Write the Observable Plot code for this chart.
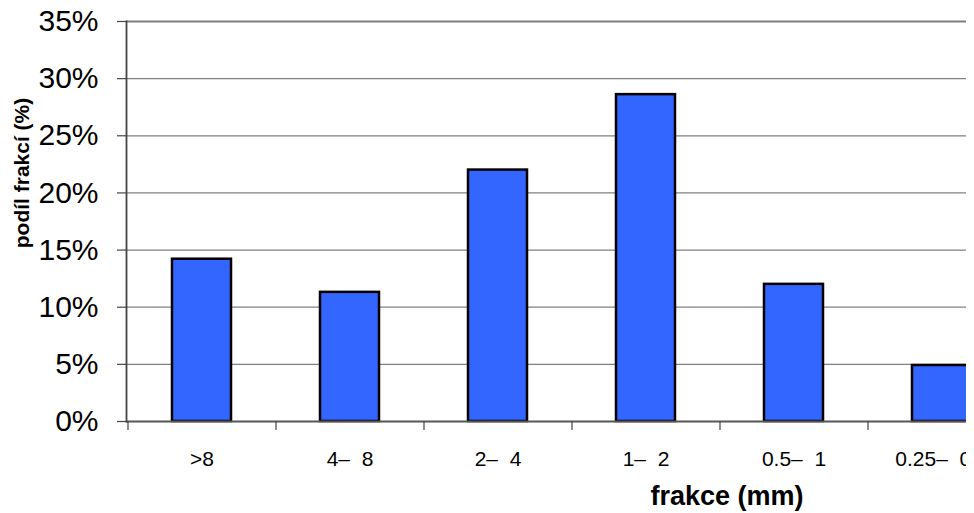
<!DOCTYPE html>
<html>
<head>
<meta charset="utf-8">
<script src="https://cdn.jsdelivr.net/npm/d3@7"></script>
<script src="https://cdn.jsdelivr.net/npm/@observablehq/plot@0.6"></script>
<style>
  html, body { margin: 0; padding: 0; background: white; }
  #wrap { width: 966px; height: 513px; overflow: hidden; background: white; }
  #wrap svg { max-width: none !important; width: 1100px; height: 513px; }
  #wrap svg text { white-space: pre; }
</style>
</head>
<body>
<div id="wrap"></div>
<script>
const categories = [">8", "4–  8", "2–  4", "1–  2", "0.5–  1", "0.25–  0.5"];
const values = [14.2, 11.3, 22.0, 28.6, 12.0, 4.9];
const yTicks = [0, 5, 10, 15, 20, 25, 30, 35];
const yTitle = "podíl frakcí (%)";
const xTitle = "frakce (mm)";

const data = categories.map((c, i) => ({cat: c, value: values[i]}));

const W = 1100, H = 513;
const common = {
  width: W, height: H,
  marginLeft: 126, marginRight: 82, marginTop: 21, marginBottom: 92,
  x: {domain: categories, paddingInner: 0.6, paddingOuter: 0.3, align: 0.5},
  y: {domain: [0, 35]}
};

const probe = Plot.plot({...common, marks: [Plot.barY(data, {x: "cat", y: "value"})]});
const step = probe.scale("x").step;

const chart = Plot.plot({
  ...common,
  style: {fontFamily: "'Liberation Sans', Arial, sans-serif", background: "white", color: "black", maxWidth: "none"},
  marks: [
    Plot.ruleY(yTicks.slice(1, -1), {stroke: "#808080", strokeWidth: 1.2}),
    Plot.ruleY([35], {stroke: "#808080", strokeWidth: 2}),
    Plot.barY(data, {x: "cat", y: "value", fill: "#3366FF", stroke: "black", strokeWidth: 2.5}),
    Plot.ruleY([0], {stroke: "#555", strokeWidth: 1.8}),
    Plot.frame({anchor: "left", stroke: "#444", strokeWidth: 1.8}),
    Plot.axisY({ticks: yTicks, tickSize: 9, tickPadding: 19, tickFormat: d => d + "%", fontSize: 30, stroke: "#444", strokeWidth: 1.2, label: null}),
    Plot.axisX({tickSize: 0, tickPadding: 30, fontSize: 21, label: null}),
    Plot.axisX({tickSize: 9, tickFormat: () => "", dx: -step / 2, stroke: "#444", strokeWidth: 1.2, label: null}),
    Plot.text([yTitle], {frameAnchor: "left", textAnchor: "middle", lineAnchor: "middle", dx: -104, dy: -48.5, rotate: -90, fontWeight: "bold", fontSize: 21, fill: "black"}),
    Plot.text([xTitle], {frameAnchor: "bottom", textAnchor: "middle", lineAnchor: "middle", dx: 154.5, dy: 74.4, fontWeight: "bold", fontSize: 27, fill: "black"})
  ]
});

document.getElementById("wrap").appendChild(chart);
</script>
</body>
</html>
